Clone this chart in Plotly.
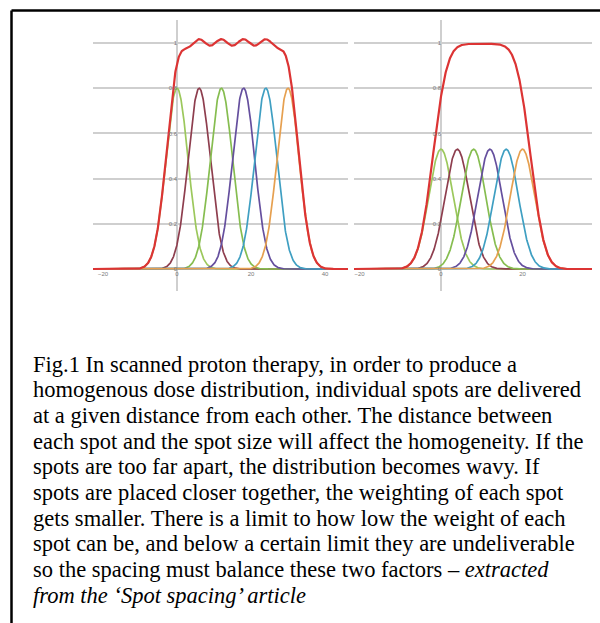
import numpy as np
import plotly.graph_objects as go

W, H = 600, 623

# ---- data (Gaussian spot profiles) ----
left_centers = [0, 6, 12, 18, 24, 30]
left_peak = 0.8
right_centers = [0, 4, 8, 12, 16, 20]
right_peak = 0.53
spot_sigma = 3.0
spot_colors = ["#9cc85c", "#8e3e4e", "#86bd50", "#654f9e", "#3f9fc2", "#e6a050"]
sum_color = "#dc3434"

y_ticks = [0, 0.2, 0.4, 0.6, 0.8, 1]
y_tick_labels = ["0", "0.2", "0.4", "0.6", "0.8", "1"]
left_x_ticks = [-20, 0, 20, 40]
right_x_ticks = [-20, 0, 20]

caption_lines = [
    "Fig.1 In scanned proton therapy, in order to produce a",
    "homogenous dose distribution, individual spots are delivered",
    "at a given distance from each other. The distance between",
    "each spot and the spot size will affect the homogeneity. If the",
    "spots are too far apart, the distribution becomes wavy. If",
    "spots are placed closer together, the weighting of each spot",
    "gets smaller. There is a limit to how low the weight of each",
    "spot can be, and below a certain limit they are undeliverable",
    "so the spacing must balance these two factors – <i>extracted</i>",
    "<i>from the ‘Spot spacing’ article</i>",
]

# ---- layout helpers (pixel -> paper) ----
def px(x):
    return x / W

def py(y):
    return 1 - y / H

y_range = [-(291 - 269) / 226, 1 + (43 - 20) / 226]
y_dom = [py(291), py(20)]
left_xr = [(93 - 177) / 3.7, (348 - 177) / 3.7]
right_xr = [(354 - 441) / 4.075, (592 - 441) / 4.075]

fig = go.Figure()


def add_panel(centers, peak, xr, xa, ya):
    x = np.linspace(xr[0], xr[1], 900)
    total = np.zeros_like(x)
    for c, col in zip(centers, spot_colors):
        g = peak * np.exp(-((x - c) ** 2) / (2 * spot_sigma ** 2))
        total += g
        fig.add_trace(go.Scatter(x=x, y=g, mode="lines", xaxis=xa, yaxis=ya,
                                 line=dict(color=col, width=1.7), hoverinfo="skip"))
    fig.add_trace(go.Scatter(x=x, y=total, mode="lines", xaxis=xa, yaxis=ya,
                             line=dict(color=sum_color, width=2.2), hoverinfo="skip"))


add_panel(left_centers, left_peak, left_xr, "x", "y")
add_panel(right_centers, right_peak, right_xr, "x2", "y2")

grid_col = "#cfcfcf"
tick_font = dict(family="Liberation Sans", size=6, color="#7a7a7a")

common_x = dict(showgrid=False, zeroline=True, zerolinecolor=grid_col, zerolinewidth=1.5,
                showline=False, ticks="", tickfont=tick_font, anchor="free",
                position=py(269), fixedrange=True)
common_y = dict(range=y_range, domain=y_dom, showgrid=True, gridcolor=grid_col, gridwidth=1.5,
                zeroline=True, zerolinecolor=grid_col, zerolinewidth=1.5, showline=False,
                ticks="", tickfont=tick_font, tickvals=y_ticks, ticktext=y_tick_labels,
                anchor="free", fixedrange=True)

fig.update_layout(
    width=W, height=H, autosize=False,
    margin=dict(l=0, r=0, t=0, b=0),
    paper_bgcolor="white", plot_bgcolor="rgba(0,0,0,0)",
    showlegend=False, hovermode=False,
    xaxis=dict(domain=[px(93), px(348)], range=left_xr, tickvals=left_x_ticks, **common_x),
    xaxis2=dict(domain=[px(354), px(592)], range=right_xr, tickvals=right_x_ticks, **common_x),
    yaxis=dict(position=px(177), **common_y),
    yaxis2=dict(position=px(441), **common_y),
)

line_step = 25.7
first_line_y = 364
for i, line in enumerate(caption_lines):
    fig.add_annotation(
        text=line, xref="paper", yref="paper",
        x=px(30.5), y=py(first_line_y + i * line_step), xanchor="left", yanchor="middle",
        align="left", showarrow=False,
        font=dict(family="Liberation Serif", size=22.5, color="black"),
    )

# figure frame (top and left edges visible)
fig.add_shape(type="line", xref="paper", yref="paper", x0=px(11.5), x1=1.0, y0=py(10.5), y1=py(10.5),
              line=dict(color="black", width=2.5))
fig.add_shape(type="line", xref="paper", yref="paper", x0=px(11.5), x1=px(11.5), y0=py(10.5), y1=0,
              line=dict(color="black", width=2.5))

fig.write_html("out.html", config={"displayModeBar": False},
               post_script="document.body.style.margin='0';document.body.style.overflow='hidden';")
